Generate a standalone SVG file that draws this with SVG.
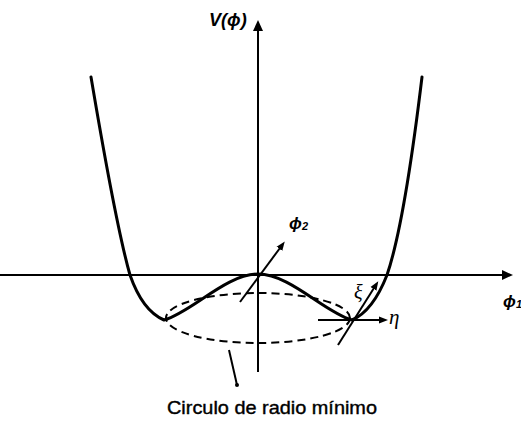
<svg xmlns="http://www.w3.org/2000/svg" width="521" height="422" viewBox="0 0 521 422">
  <style>
    .ax { stroke: #000; stroke-width: 2; fill: none; }
    .curve { stroke: #000; stroke-width: 3; fill: none; stroke-linejoin: round; stroke-linecap: round; }
    .dash { stroke: #000; stroke-width: 2; fill: none; stroke-dasharray: 8 5; }
    .vec { stroke: #000; stroke-width: 2; fill: none; }
    .math { font-family: "Liberation Sans", Arial, sans-serif; font-style: italic; font-weight: bold; fill: #000; }
    .greek { font-family: "Liberation Serif", "Times New Roman", serif; font-style: italic; fill: #000; }
    .cap { font-family: "Liberation Sans", Arial, sans-serif; font-size: 19px; fill: #000; stroke: #000; stroke-width: 0.4; }
  </style>
  <defs>
    <marker id="bigArrow" markerWidth="12" markerHeight="12" refX="0" refY="5" orient="auto" markerUnits="userSpaceOnUse" viewBox="0 0 12 10">
      <path d="M0,0 L11,5 L0,10 Z" fill="#000"/>
    </marker>
    <marker id="smallArrow" markerWidth="9" markerHeight="8" refX="1" refY="3.5" orient="auto" markerUnits="userSpaceOnUse" viewBox="0 0 9 7">
      <path d="M0,0 L9,3.5 L0,7 Z" fill="#000"/>
    </marker>
  </defs>

  <g id="axes">
    <line id="axis-phi1" class="ax" x1="0" y1="275" x2="502" y2="275" marker-end="url(#bigArrow)"/>
    <line id="axis-V" class="ax" x1="258" y1="372" x2="258" y2="31" marker-end="url(#bigArrow)"/>
  </g>

  <g id="potential">
    <path class="curve" d="M91,77 C105,160 120,240 130,275 C138,298 150,314 164,320 C192,312 226,274 258,274 C290,274 324,312 352,320 C366,314 378,298 387,275 C399,240 412,160 422,77"/>
  </g>

  <g id="min-circle">
    <ellipse class="dash" cx="258" cy="318" rx="92" ry="25"/>
  </g>

  <g id="connectors">
    <line class="vec" x1="240" y1="302" x2="280" y2="248" marker-end="url(#smallArrow)"/>
    <line class="vec" x1="318" y1="320" x2="380" y2="320" marker-end="url(#smallArrow)"/>
    <line class="vec" x1="338" y1="345" x2="374" y2="288" marker-end="url(#smallArrow)"/>
    <line class="vec" x1="229" y1="350" x2="237" y2="385"/>
    <circle cx="237" cy="385" r="2" fill="#000"/>
  </g>

  <g id="labels">
    <text class="math" x="209" y="26" font-size="18">V(ϕ)</text>
    <text class="math" x="289" y="229" font-size="17">ϕ<tspan font-size="11" dy="1">2</tspan></text>
    <text class="math" x="503" y="307" font-size="17">ϕ<tspan font-size="11" dy="1">1</tspan></text>
    <text class="greek" x="354" y="299" font-size="20">ξ</text>
    <text class="greek" x="389" y="324" font-size="21">η</text>
    <text class="cap" x="167" y="414" textLength="210" lengthAdjust="spacingAndGlyphs">Circulo de radio mínimo</text>
  </g>
</svg>
